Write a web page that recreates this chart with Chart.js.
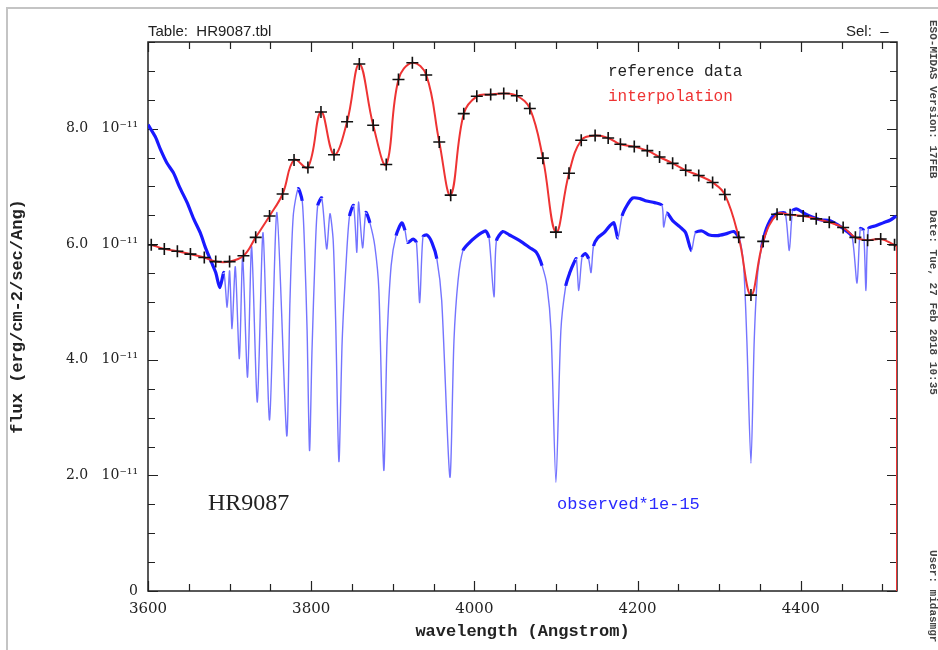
<!DOCTYPE html>
<html>
<head>
<meta charset="utf-8">
<script src="https://cdn.jsdelivr.net/npm/chart.js@4/dist/chart.umd.min.js"></script>
<style>
html, body { margin: 0; padding: 0; background: #fff; }
#wrap { width: 938px; height: 650px; position: relative; overflow: hidden; }
</style>
</head>
<body>
<div id="wrap"><canvas id="myChart" width="938" height="650"></canvas></div>
<script>
// flux values are in units of 1e-11 erg/cm-2/sec/Ang
let refWave = [3604, 3620, 3636, 3652, 3669, 3683, 3700, 3717, 3732, 3749, 3765, 3779, 3796, 3812, 3828, 3844,
  3859, 3876, 3892, 3907, 3924, 3941, 3957, 3971, 3987, 4003, 4020, 4036, 4052, 4068, 4084, 4100, 4116, 4131,
  4148, 4164, 4179, 4196, 4212, 4227, 4243, 4259, 4275, 4292, 4307, 4324, 4339, 4354, 4371, 4387, 4403, 4419,
  4435, 4452, 4467, 4482, 4498, 4515];
let refFlux = [5.99, 5.92, 5.88, 5.83, 5.77, 5.70, 5.70, 5.80, 6.12, 6.49, 6.87, 7.46, 7.33, 8.29, 7.55, 8.12,
  9.12, 8.06, 7.38, 8.85, 9.14, 8.93, 7.77, 6.85, 8.26, 8.56, 8.59, 8.61, 8.57, 8.35, 7.49, 6.21, 7.23, 7.80,
  7.88, 7.84, 7.73, 7.69, 7.62, 7.51, 7.40, 7.28, 7.19, 7.07, 6.86, 6.12, 5.12, 6.05, 6.52, 6.51, 6.49, 6.44,
  6.38, 6.29, 6.12, 6.07, 6.09, 5.99];

// interpolation falls to zero past the end of the table
let tailWave = [4515, 4518, 4518];
let tailFlux = [5.99, 5.96, 0];

let obsWave = [3600, 3609, 3615, 3623, 3631, 3639, 3648, 3656, 3664, 3671, 3678, 3683,
  3688, 3693, 3697, 3700, 3703, 3707, 3712, 3716, 3722, 3727, 3734, 3741, 3749, 3758, 3770,
  3774, 3778, 3784, 3789, 3792, 3795, 3798,
  3801, 3805, 3808, 3813, 3819, 3823, 3827, 3830, 3834,
  3838, 3843, 3847, 3852, 3856, 3858, 3863, 3867, 3872, 3878, 3883, 3889,
  3893, 3898, 3904, 3911, 3915, 3918, 3925, 3929, 3933, 3937, 3942, 3948, 3954, 3960, 3970,
  3975, 3980, 3986, 3994, 4002, 4009, 4014, 4018, 4024, 4027, 4035, 4043, 4056, 4068, 4076, 4083, 4089, 4094, 4100,
  4106, 4112, 4117, 4122, 4125, 4128, 4132, 4136, 4140, 4143, 4146, 4151, 4159, 4166, 4171, 4176, 4181, 4187,
  4194, 4203, 4211, 4221, 4230, 4232, 4236, 4243, 4252, 4259, 4266, 4271, 4279, 4288, 4298, 4308, 4318, 4325,
  4330, 4334, 4339,
  4343, 4347, 4352, 4358, 4366, 4374, 4381, 4386, 4390, 4395, 4405, 4414, 4425, 4435, 4445, 4455, 4463, 4469,
  4473, 4477, 4480, 4483, 4492, 4501, 4510, 4517];
let obsFlux = [8.07, 7.86, 7.65, 7.41, 7.24, 6.98, 6.72, 6.44, 6.20, 5.92, 5.68, 5.51,
  5.25, 5.51, 4.91, 5.54, 4.54, 5.61, 4.02, 5.77, 3.70, 5.96, 3.27, 6.20, 2.96, 6.55, 2.69,
  5.02, 6.49, 6.96, 6.75, 5.89, 4.51, 2.43,
  4.16, 5.89, 6.67, 6.80, 5.92, 6.53, 6.06, 4.68, 2.24,
  4.33, 5.72, 6.49, 6.67, 5.86, 6.73, 5.94, 6.55, 6.37, 5.97, 5.20, 2.09,
  4.33, 5.63, 6.15, 6.37, 6.24, 6.03, 6.09, 6.03, 4.99, 6.13, 6.16, 6.03, 5.75, 5.02, 1.97,
  4.33, 5.37, 5.89, 6.03, 6.13, 6.20, 6.23, 6.11, 5.09, 6.06, 6.22, 6.16, 6.06, 5.94, 5.86, 5.63, 5.28, 4.50, 1.88,
  4.50, 5.28, 5.51, 5.68, 5.75, 5.20, 5.78, 5.84, 5.75, 5.51, 5.97, 6.11, 6.20, 6.32, 6.37, 6.11, 6.49, 6.67,
  6.80, 6.79, 6.75, 6.72, 6.67, 6.30, 6.54, 6.41, 6.30, 6.20, 5.89, 6.20, 6.23, 6.16, 6.15, 6.18, 6.22, 6.09,
  5.63, 4.33, 2.21,
  4.33, 5.46, 5.94, 6.27, 6.49, 6.54, 6.54, 5.89, 6.58, 6.61, 6.53, 6.47, 6.42, 6.41, 6.34, 6.24, 6.13, 5.33,
  6.27, 6.24, 5.20, 6.27, 6.32, 6.37, 6.42, 6.49];

let xTicks = [3600, 3800, 4000, 4200, 4400];
let yTicks = [0, 2, 4, 6, 8];

function pts(xs, ys) {
  return xs.map((x, i) => ({ x: x, y: ys[i] }));
}

function steep(ctx) {
  let dx = Math.abs(ctx.p1.x - ctx.p0.x), dy = Math.abs(ctx.p1.y - ctx.p0.y);
  return dy / Math.max(dx, 0.1) > 4;
}

let framePlugin = {
  id: 'frame',
  beforeDraw(chart) {
    let c = chart.ctx;
    c.save();
    c.fillStyle = '#fff';
    c.fillRect(0, 0, chart.width, chart.height);
    // page border
    c.strokeStyle = '#c4c4c4';
    c.lineWidth = 2;
    c.beginPath();
    c.moveTo(7, 650);
    c.lineTo(7, 8);
    c.lineTo(938, 8);
    c.stroke();
    c.restore();
  },
  beforeDatasetsDraw(chart) {
    let c = chart.ctx, a = chart.chartArea;
    let xs = chart.scales.x, ys = chart.scales.y;
    c.save();
    c.strokeStyle = '#222';
    c.lineWidth = 1.5;
    c.strokeRect(a.left, a.top, a.right - a.left, a.bottom - a.top);
    c.lineWidth = 1.2;
    c.beginPath();
    for (let w = 3600; w <= 4518; w += 50) {
      let px = Math.round(xs.getPixelForValue(w)) + 0.5;
      let len = (w % 200 === 0) ? 10 : 7;
      c.moveTo(px, a.bottom); c.lineTo(px, a.bottom - len);
      c.moveTo(px, a.top); c.lineTo(px, a.top + len);
    }
    for (let f = 0; f <= 9.5; f += 0.5) {
      let py = Math.round(ys.getPixelForValue(f)) + 0.5;
      let len = (f % 2 === 0) ? 10 : 7;
      c.moveTo(a.left, py); c.lineTo(a.left + len, py);
      c.moveTo(a.right, py); c.lineTo(a.right - len, py);
    }
    c.stroke();
    c.restore();
  },
  afterDraw(chart) {
    let c = chart.ctx;
    c.save();
    c.textBaseline = 'middle';
    c.fillStyle = '#222';
    c.font = '15px "Liberation Sans"';
    c.fillText('Table:  HR9087.tbl', 148, 32);
    c.fillText('Sel:  \u2013', 846, 32);
    c.font = '16px "Liberation Mono"';
    c.fillText('reference data', 608, 72);
    c.fillStyle = '#ee3333';
    c.fillText('interpolation', 608, 97);
    c.fillStyle = '#222';
    c.font = '24px "Liberation Serif"';
    c.fillText('HR9087', 208, 504);
    c.fillStyle = '#2a2aff';
    c.font = '17px "Liberation Mono"';
    c.fillText('observed*1e-15', 557, 504);
    // clipped side caption of the plot window
    c.fillStyle = '#444';
    c.font = 'bold 11px "Liberation Mono"';
    c.translate(933, 20);
    c.rotate(Math.PI / 2);
    c.fillText('ESO-MIDAS Version: 17FEB', 0, 0);
    c.fillText('Date: Tue, 27 Feb 2018 10:35', 190, 0);
    c.fillText('User: midasmgr', 530, 0);
    c.restore();
  }
};

let myChart = document.getElementById('myChart').getContext('2d');

let chart = new Chart(myChart, {
  type: 'line',
  data: {
    datasets: [
      {
        label: 'reference data',
        data: pts(refWave, refFlux),
        showLine: false,
        pointStyle: 'cross',
        pointRadius: 6,
        borderColor: '#111',
        borderWidth: 1.6,
        order: 0
      },
      {
        label: 'interpolation',
        data: pts(refWave, refFlux),
        borderColor: '#ee3333',
        borderWidth: 2,
        pointRadius: 0,
        tension: 0.4,
        order: 1
      },
      {
        label: 'interpolation tail',
        data: pts(tailWave, tailFlux),
        borderColor: '#ee3333',
        borderWidth: 2,
        pointRadius: 0,
        tension: 0,
        order: 1
      },
      {
        label: 'observed*1e-15',
        data: pts(obsWave, obsFlux),
        borderColor: 'rgb(25,25,255)',
        borderWidth: 3.2,
        pointRadius: 0,
        tension: 0.25,
        order: 2,
        segment: {
          borderColor: ctx => steep(ctx) ? 'rgba(70,70,255,0.75)' : 'rgb(25,25,255)',
          borderWidth: ctx => steep(ctx) ? 1.4 : 3.2
        }
      }
    ]
  },
  options: {
    responsive: false,
    animation: false,
    layout: { padding: { left: 0, right: 41, top: 42, bottom: 0 } },
    plugins: {
      legend: { display: false },
      tooltip: { enabled: false }
    },
    scales: {
      x: {
        type: 'linear',
        min: 3600,
        max: 4518,
        afterBuildTicks: s => { s.ticks = xTicks.map(v => ({ value: v })); },
        afterFit: s => { s.height = 59; },
        grid: { display: false, drawTicks: false },
        border: { display: false },
        ticks: {
          padding: 9,
          maxRotation: 0,
          color: '#222',
          font: { family: 'DejaVu Serif', size: 15 },
          callback: v => String(v)
        },
        title: {
          display: true,
          text: 'wavelength (Angstrom)',
          color: '#222',
          padding: { top: 0, bottom: 8 },
          font: { family: 'Liberation Mono', size: 17, weight: 'bold' }
        }
      },
      y: {
        min: 0,
        max: 9.5,
        afterBuildTicks: s => { s.ticks = yTicks.map(v => ({ value: v })); },
        afterFit: s => { s.width = 148; },
        grid: { display: false, drawTicks: false },
        border: { display: false },
        ticks: {
          padding: 10,
          color: '#222',
          font: { family: 'DejaVu Serif', size: 14 },
          callback: v => v === 0 ? '0' : v.toFixed(1) + '   10\u207b\u00b9\u00b9'
        },
        title: {
          display: true,
          text: 'flux (erg/cm-2/sec/Ang)',
          color: '#222',
          padding: { top: 8, bottom: 0 },
          font: { family: 'Liberation Mono', size: 17, weight: 'bold' }
        }
      }
    }
  },
  plugins: [framePlugin]
});
</script>
</body>
</html>
